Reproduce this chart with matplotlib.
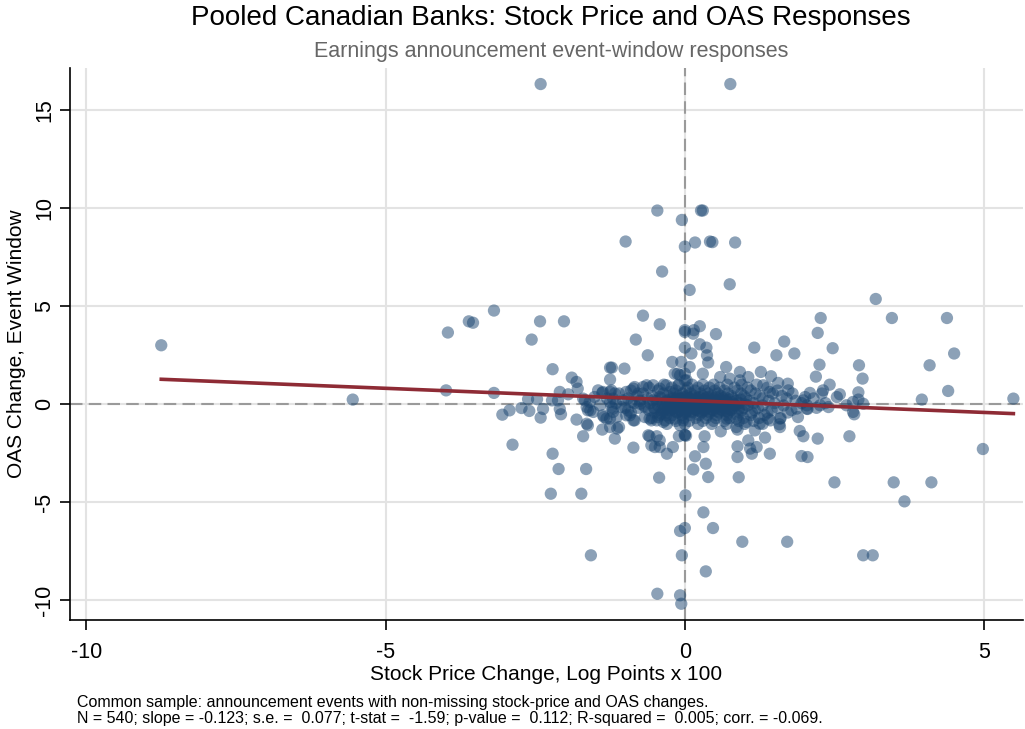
import matplotlib
matplotlib.use('Agg')
import matplotlib.pyplot as plt
import numpy as np

plt.rcParams['font.family'] = ['Liberation Sans', 'DejaVu Sans']
plt.rcParams['axes.unicode_minus'] = False

# 外れ値: 株価変化, OAS変化
outer_x = [-2.41, 0.76, -0.46, -0.05, 0.27, 0.30, -0.99, 0.0, 0.17, 0.42, 0.46, 0.84,
           -0.38, 0.75, 0.08, 3.19, -3.19, -3.61, -3.54, -2.42, -2.02, -0.70, -0.42,
           2.27, 3.46, 4.38, 0.0, 0.15, 0.25, 0.52, -3.96, -2.56, -0.82, 2.22, 1.66,
           1.16, 0.0, 0.0, 0.14,
           -0.62, -2.21, -1.89, -1.81, -1.79, -1.25, -1.01, -1.22, -1.25, -0.21, -0.06,
           -0.12, 0.0, 0.11, 0.25, 0.36, 0.37, 0.39, 0.30, -3.99, -3.19, -2.62, -2.47,
           -2.09, -1.95, -2.22, -2.12, -2.73, -2.93, -3.05, -2.60, -2.37, -2.41, -2.09,
           -2.07, -1.81, -1.67, -1.62, -1.58, -1.45, -1.38, -1.25, -1.23, -1.20, -1.35,
           -1.25, -1.14, -1.10, -1.38, -1.64, -1.62, -1.70, -1.17, -1.13, -0.98, -0.86,
           -0.95, -0.86, -0.70, -0.53, -0.67, -0.56, -0.45, -0.36, -0.59, -0.47, -0.42,
           -0.50, -0.42, -0.86, -0.30, -0.20, -0.10, 0.0, 0.33, 0.31, 0.17, 0.14, 0.35,
           0.39, -0.43, -2.88, -2.21, -2.11, -1.65, -2.24, -1.73, 0.01, 0.31, 0.47,
           -0.08, 0.0, -1.57, -0.05, 0.35, -0.46, -0.08, -0.06,
           -8.75, -5.55,
           1.53, 1.83, 2.47, 2.25, 2.19, 2.42, 2.31, 2.91, 2.97, 2.90, 4.09, 4.50, 4.40,
           3.96, 5.49, 4.98, 0.69, 0.92, 1.27, 1.44, 1.56, 1.72, 1.73, 1.92, 1.98, 2.22,
           2.75, 1.95, 2.05, 1.42, 1.12, 1.20, 0.88, 0.88, 1.34, 1.17, 0.88, 0.60, 0.90,
           2.50, 3.49, 4.12, 3.67, 0.96, 1.71, 2.98, 3.14, 1.58, 1.43, 2.05, 2.09, 2.01,
           2.54, 2.59, 2.81, 2.83, 2.70, 2.40, 2.26, 1.87, 2.90, 2.81, 2.98, 2.29, 1.98,
           2.04,
           -1.37, -1.23, -1.17, -0.98, -0.84, -0.78, -0.64, -0.42, -0.31, -0.25, -0.17,
           -0.08, -0.11, 0.0, -1.25, -1.53, -1.37, -1.31, -1.20, -1.06, -0.92, -0.84,
           -0.59, -0.47, -0.39, -0.33, -0.61, -0.56, -1.03, -0.89, -0.75, -0.53, -0.42,
           -0.25, -0.14, -0.06, -1.70, -1.64, -1.59, -1.51, -1.42, -1.25, -1.20, -0.67,
           -0.50, -0.36, -0.20, -0.31, -0.17, -0.08, 0.0, -0.03, 0.08, 0.03, 0.59, 0.75,
           1.06, 0.92, 1.42, 1.31, 0.86, 1.06, 1.09, 1.59, 2.04, 1.89, 1.59, 1.39, 1.25,
           1.03, 0.86, 0.70, 0.0, 0.02]
outer_y = [16.33, 16.33, 9.88, 9.40, 9.88, 9.88, 8.30, 8.04, 8.25, 8.30, 8.27, 8.25,
           6.77, 6.12, 5.83, 5.37, 4.78, 4.23, 4.16, 4.23, 4.23, 4.52, 4.08,
           4.40, 4.40, 4.40, 3.78, 3.78, 3.98, 3.58, 3.66, 3.30, 3.30, 3.64, 3.20,
           2.89, 3.69, 2.89, 3.60,
           2.50, 1.79, 1.36, 1.14, 0.80, 1.87, 1.82, 1.87, 1.26, 2.16, 2.16,
           1.56, 1.56, 2.59, 3.06, 2.89, 2.50, 2.13, 1.56, 0.71, 0.58, 0.26, 0.26,
           0.63, 0.51, 0.20, 0.20, -0.19, -0.31, -0.53, -0.34, -0.24, -0.68, -0.24,
           -0.51, -0.78, 0.20, -0.31, -0.31, 0.71, 0.58, 0.63, -0.14, -0.39, -0.65,
           -0.73, -0.65, -1.16, -1.29, -0.99, -1.07, -1.63, -1.75, -1.24, -0.56, -0.82,
           -0.31, 0.80, 0.88, 0.97, -0.65, -0.82, -0.65, -0.90, -1.63, -1.63, -1.84,
           -2.18, -2.18, -2.21, -2.52, -2.18, -1.63, -1.55, -1.63, -2.18, -2.65, -3.32, -3.03,
           -3.71, -3.74, -2.06, -2.52, -3.30, -3.30, -4.56, -4.56, -4.64, -5.51, -6.31,
           -6.46, -6.31, -7.70, -7.70, -8.52, -9.66, -9.74, -10.17,
           3.01, 0.24,
           2.50, 2.59, 2.86, 2.02, 1.41, 1.00, 0.71, 1.99, 1.31, 0.61, 1.99, 2.59, 0.68,
           0.24, 0.29, -2.28, 1.90, 1.65, 1.65, 1.43, 1.09, 1.05, 0.71, -1.36, -1.63, -1.75,
           -1.63, -2.64, -2.69, -2.52, -2.52, -2.18, -2.14, -2.69, -1.70, -1.33, -1.29, -1.38, -3.72,
           -3.98, -3.98, -3.98, -4.95, -7.01, -7.01, -7.70, -7.70, -1.02, -0.82, -0.24, 0.58, 0.37,
           0.37, 0.51, -0.39, -0.51, -0.05, -0.14, -0.05, -0.22, 0.24, 0.12, 0.03, 0.55, 0.20,
           -0.22,
           0.63, 0.71, 0.55, 0.63, 0.88, 0.55, 0.97, 0.80, 0.97, 0.63, 1.56,
           1.48, 0.97, 1.22, -1.16, -0.39, -0.56, -0.73, -0.22, -0.14, -0.56, -0.82,
           -0.73, -0.82, -0.48, -0.82, -1.58, -2.09, 0.20, 0.12, 0.03, 0.20, 0.37,
           0.12, 0.29, 0.03, 0.29, -0.14, 0.12, 0.37, -0.05, 0.12, 0.29, -0.14,
           -0.22, -0.31, -0.22, -0.56, -0.73, -1.07, -0.48, -0.82, 1.90, 1.22, 1.39, 1.31,
           1.39, 1.22, 0.63, 0.97, -1.16, -1.84, -2.26, -1.16, -0.05, -0.65, -0.73, -0.73, -0.99,
           -0.90, -0.73, -0.73, -1.58, -1.60]

# 中心部の密集域（行ごとに読み取ったx）
core_y = [1.0, 0.85, 0.7, 0.55, 0.42, 0.3, 0.18, 0.06, -0.06, -0.18, -0.3, -0.42,
          -0.55, -0.7, -0.85, -1.0, 0.36, 0.12, -0.12, -0.36, 0.24, 0.0, -0.24]
core_x = [
    [-0.35, -0.1, 0.12, 0.3, 0.48, 0.71, 0.95, 1.2],
    [-0.6, -0.22, 0.05, 0.22, 0.41, 0.58, 0.83, 1.05, 1.38],
    [-0.9, -0.45, -0.15, 0.02, 0.17, 0.33, 0.5, 0.66, 0.88, 1.1, 1.55],
    [-1.1, -0.7, -0.36, -0.18, -0.04, 0.1, 0.26, 0.39, 0.55, 0.72, 0.94, 1.18, 1.47, 1.8],
    [-0.8, -0.55, -0.28, -0.1, 0.04, 0.16, 0.3, 0.45, 0.6, 0.78, 0.99, 1.25, 1.62],
    [-1.3, -0.95, -0.62, -0.4, -0.2, -0.06, 0.08, 0.21, 0.35, 0.49, 0.64, 0.8, 1.02, 1.3, 1.7, 2.15],
    [-0.75, -0.47, -0.3, -0.14, 0.0, 0.13, 0.26, 0.4, 0.53, 0.68, 0.86, 1.08, 1.4, 1.85],
    [-1.15, -0.85, -0.58, -0.38, -0.22, -0.08, 0.05, 0.18, 0.31, 0.44, 0.58, 0.73, 0.91, 1.15, 1.5, 1.95, 2.35],
    [-0.68, -0.45, -0.27, -0.12, 0.02, 0.15, 0.28, 0.41, 0.55, 0.69, 0.85, 1.05, 1.3, 1.65],
    [-1.0, -0.78, -0.52, -0.33, -0.17, -0.03, 0.1, 0.23, 0.36, 0.5, 0.64, 0.8, 0.98, 1.22, 1.55, 2.2],
    [-0.6, -0.4, -0.24, -0.08, 0.06, 0.2, 0.33, 0.47, 0.62, 0.77, 0.95, 1.17, 1.45, 1.78],
    [-0.9, -0.5, -0.3, -0.13, 0.01, 0.14, 0.28, 0.42, 0.57, 0.73, 0.92, 1.12, 1.38, 1.72],
    [-0.42, -0.2, -0.05, 0.09, 0.24, 0.38, 0.53, 0.7, 0.88, 1.1, 1.33],
    [-0.55, -0.25, -0.02, 0.18, 0.35, 0.52, 0.75, 0.98, 1.24, 1.6],
    [-0.15, 0.07, 0.3, 0.48, 0.66, 0.9, 1.15],
    [-0.3, 0.0, 0.22, 0.45, 0.7, 1.0, 1.3],
    [-0.12, 0.0, 0.11, 0.24, 0.37, 0.52, 0.67],
    [-0.18, -0.04, 0.09, 0.2, 0.34, 0.47, 0.62, 0.8],
    [-0.2, -0.07, 0.06, 0.19, 0.32, 0.46, 0.6, 0.76],
    [-0.15, 0.0, 0.12, 0.26, 0.4, 0.55, 0.7],
    [-0.26, -0.09, 0.04, 0.15, 0.29, 0.43, 0.58, 0.74, 0.93],
    [-0.32, -0.15, -0.01, 0.12, 0.25, 0.38, 0.51, 0.66, 0.83, 1.0],
    [-0.28, -0.11, 0.03, 0.16, 0.3, 0.44, 0.59, 0.75, 0.9],
]

# 回帰直線（注記の値）
slope = -0.123
intercept = 0.20

x_all = list(outer_x)
y_all = list(outer_y)
for yv, xs in zip(core_y, core_x):
    x_all += xs
    y_all += [yv] * len(xs)
x_all = np.array(x_all)
y_all = np.array(y_all)

fig = plt.figure(figsize=(10.25, 7.29), dpi=100)
ax = fig.add_axes([0.068, 0.1495, 0.930, 0.757])

ax.set_xlim(-10.28, 5.65)
ax.set_ylim(-11.0, 17.14)
ax.set_xticks([-10, -5, 0, 5])
ax.set_yticks([-10, -5, 0, 5, 10, 15])
ax.grid(True, color='#e3e3e3', linewidth=1.5, zorder=0)
ax.set_axisbelow(True)

ax.axhline(0, color='#9a9a9a', linewidth=1.5, dashes=(6, 3), zorder=1)
ax.axvline(0, color='#9a9a9a', linewidth=1.5, dashes=(6, 3), zorder=1)

ax.scatter(x_all, y_all, s=78, color='#1a4570', alpha=0.5, edgecolors='none', zorder=2)

lx = np.array([x_all.min(), x_all.max()])
ax.plot(lx, intercept + slope * lx, color='#8e2b35', linewidth=2.6, zorder=3)

for s in ['top', 'right']:
    ax.spines[s].set_visible(False)
ax.spines['left'].set_linewidth(1.2)
ax.spines['bottom'].set_linewidth(1.2)
ax.tick_params(axis='both', direction='out', length=7, width=1.2, labelsize=15.5)
ax.tick_params(axis='x', pad=9)
for lab in ax.get_yticklabels():
    lab.set_rotation(90)
    lab.set_va('center')

ax.set_xlabel('Stock Price Change, Log Points x 100', fontsize=15, labelpad=1)
ax.set_ylabel('OAS Change, Event Window', fontsize=15, labelpad=6)

fig.text(0.5375, 0.975, 'Pooled Canadian Banks: Stock Price and OAS Responses',
         ha='center', va='center', fontsize=20)
fig.text(0.5375, 0.930, 'Earnings announcement event-window responses',
         ha='center', va='center', fontsize=15.5, color='#666666')

fig.text(0.075, 0.037,
         'Common sample: announcement events with non-missing stock-price and OAS changes.',
         ha='left', va='center', fontsize=11.5)
fig.text(0.075, 0.015,
         'N = 540; slope = -0.123; s.e. =  0.077; t-stat =  -1.59; p-value =  0.112; '
         'R-squared =  0.005; corr. = -0.069.',
         ha='left', va='center', fontsize=11.5)

plt.savefig('out.png', dpi=100)
